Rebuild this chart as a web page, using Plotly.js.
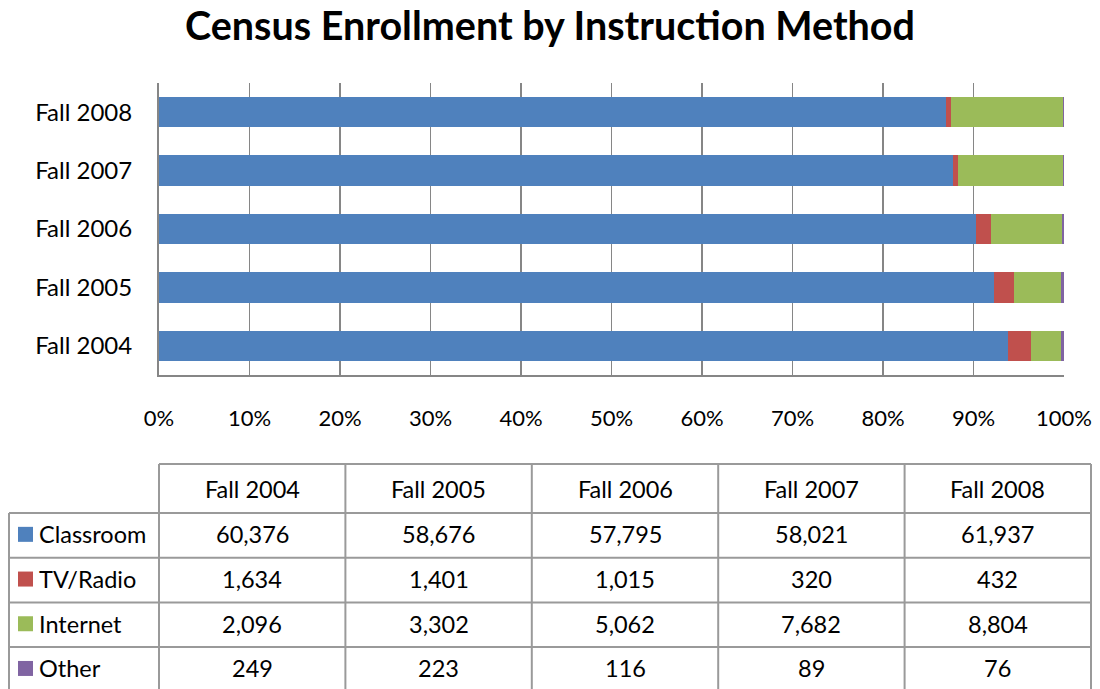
<!DOCTYPE html>
<html>
<head>
<meta charset="utf-8">
<script src="https://cdn.plot.ly/plotly-3.0.1.min.js"></script>
<style>html,body{margin:0;padding:0;background:#fff;}#chart{width:1100px;height:689px;}</style>
</head>
<body>
<div id="chart"></div>
<script>
const terms = ['Fall 2004', 'Fall 2005', 'Fall 2006', 'Fall 2007', 'Fall 2008'];
const seriesNames = ['Classroom', 'TV/Radio', 'Internet', 'Other'];
const classroom = [60376, 58676, 57795, 58021, 61937];
const tvRadio = [1634, 1401, 1015, 320, 432];
const internet = [2096, 3302, 5062, 7682, 8804];
const other = [249, 223, 116, 89, 76];
const xTickVals = [0, 10, 20, 30, 40, 50, 60, 70, 80, 90, 100];
const xTickText = ['0%', '10%', '20%', '30%', '40%', '50%', '60%', '70%', '80%', '90%', '100%'];

const seriesValues = [classroom, tvRadio, internet, other];
const colors = ['#4F81BD', '#C0504D', '#9BBB59', '#8064A2'];
const FONT = 'Lato, "Open Sans", sans-serif';

const W = 1100, H = 689;
const px = x => x / W;
const py = y => 1 - y / H;

const traces = seriesNames.map((name, i) => ({
  type: 'bar', orientation: 'h', name: name,
  y: terms, x: seriesValues[i],
  marker: {color: colors[i], line: {width: 0}},
  hoverinfo: 'skip', showlegend: false
}));

// ---- data table geometry (pixels) ----
const tLeft = 9, tLabelRight = 159, tRight = 1091;
const tTop = 464, headerBottom = 513, rowH = 44.7;
const colW = (tRight - tLabelRight) / terms.length;
const lineGray = '#9A9A9A';
const tableFont = {family: FONT, size: 23.5, color: '#000'};

const shapes = [];
const annotations = [];
const rowTop = r => headerBottom + r * rowH;
const tBottom = H + 5;

// horizontal lines
shapes.push({type: 'line', xref: 'paper', yref: 'paper',
  x0: px(tLabelRight), x1: px(tRight), y0: py(tTop), y1: py(tTop),
  line: {color: lineGray, width: 2}});
for (let r = 0; r < seriesNames.length; r++) {
  shapes.push({type: 'line', xref: 'paper', yref: 'paper',
    x0: px(tLeft), x1: px(tRight), y0: py(rowTop(r)), y1: py(rowTop(r)),
    line: {color: lineGray, width: 2}});
}
// vertical lines
shapes.push({type: 'line', xref: 'paper', yref: 'paper',
  x0: px(tLeft), x1: px(tLeft), y0: py(headerBottom), y1: py(tBottom),
  line: {color: lineGray, width: 2}});
for (let c = 0; c <= terms.length; c++) {
  const x = tLabelRight + c * colW;
  shapes.push({type: 'line', xref: 'paper', yref: 'paper',
    x0: px(x), x1: px(x), y0: py(tTop), y1: py(tBottom),
    line: {color: lineGray, width: 2}});
}
// header texts
terms.forEach((t, c) => {
  annotations.push({xref: 'paper', yref: 'paper', showarrow: false,
    x: px(tLabelRight + (c + 0.5) * colW), y: py((tTop + headerBottom) / 2),
    xanchor: 'center', yanchor: 'middle', text: t, font: tableFont});
});
// rows
seriesNames.forEach((name, r) => {
  const cy = rowTop(r) + rowH / 2 - 1;
  shapes.push({type: 'rect', xref: 'paper', yref: 'paper',
    x0: px(18), x1: px(33), y0: py(cy - 7.5), y1: py(cy + 7.5),
    fillcolor: colors[r], line: {width: 0}});
  annotations.push({xref: 'paper', yref: 'paper', showarrow: false,
    x: px(37), y: py(cy), xanchor: 'left', yanchor: 'middle',
    text: name, font: tableFont});
  seriesValues[r].forEach((v, c) => {
    annotations.push({xref: 'paper', yref: 'paper', showarrow: false,
      x: px(tLabelRight + (c + 0.5) * colW), y: py(cy),
      xanchor: 'center', yanchor: 'middle',
      text: v.toLocaleString('en-US'), font: tableFont});
  });
});

const layout = {
  width: W, height: H,
  margin: {l: 0, r: 0, t: 0, b: 0},
  paper_bgcolor: 'white', plot_bgcolor: 'white',
  title: {text: '<b>Census Enrollment by Instruction Method</b>', x: 0.5, xanchor: 'center',
          y: py(26), yanchor: 'middle', font: {family: FONT, size: 39.5, color: '#000'}},
  barmode: 'stack', barnorm: 'percent', bargap: 0.48,
  xaxis: {
    domain: [px(159), px(1064)], range: [0, 100],
    tickvals: xTickVals, ticktext: xTickText,
    showgrid: true, gridcolor: '#868686', gridwidth: 1.5,
    showline: true, linecolor: '#868686', linewidth: 2,
    zeroline: false, ticks: '', ticklabelstandoff: 23,
    tickfont: {family: FONT, size: 22, color: '#000'}, fixedrange: true
  },
  yaxis: {
    domain: [py(375), py(83)],
    categoryorder: 'array', categoryarray: terms,
    showline: true, linecolor: '#868686', linewidth: 2,
    showgrid: false, ticks: '', ticklabelstandoff: 20,
    tickfont: {family: FONT, size: 24, color: '#000'}, fixedrange: true
  },
  shapes: shapes,
  annotations: annotations,
  font: {family: FONT}
};

Plotly.newPlot('chart', traces, layout, {staticPlot: true, displayModeBar: false});
</script>
</body>
</html>
